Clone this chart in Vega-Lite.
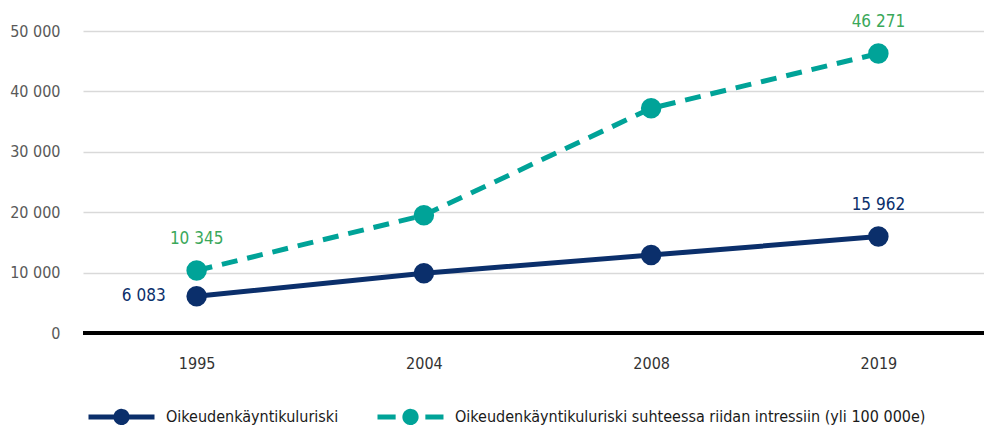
{
  "$schema": "https://vega.github.io/schema/vega-lite/v6.json",
  "width": 909,
  "height": 302,
  "autosize": {"type": "none"},
  "padding": {"left": 83, "top": 31, "right": -8, "bottom": 95},
  "config": {
    "locale": {"number": {"decimal": ",", "thousands": " ", "grouping": [3], "currency": ["", " €"]}},
    "font": "DejaVu Sans Condensed",
    "axis": {"labelFont": "DejaVu Sans Condensed"},
    "legend": {"labelFont": "DejaVu Sans Condensed", "labelLimit": 0},
    "text": {"font": "DejaVu Sans Condensed"},
    "view": {"stroke": null}
  },
  "data": {
    "values": [
      {"year": "1995", "series": "Oikeudenkäyntikuluriski", "value": 6083},
      {"year": "2004", "series": "Oikeudenkäyntikuluriski", "value": 9900},
      {"year": "2008", "series": "Oikeudenkäyntikuluriski", "value": 12900},
      {"year": "2019", "series": "Oikeudenkäyntikuluriski", "value": 15962},
      {"year": "1995", "series": "Oikeudenkäyntikuluriski suhteessa riidan intressiin (yli 100 000e)", "value": 10345},
      {"year": "2004", "series": "Oikeudenkäyntikuluriski suhteessa riidan intressiin (yli 100 000e)", "value": 19500},
      {"year": "2008", "series": "Oikeudenkäyntikuluriski suhteessa riidan intressiin (yli 100 000e)", "value": 37200},
      {"year": "2019", "series": "Oikeudenkäyntikuluriski suhteessa riidan intressiin (yli 100 000e)", "value": 46271}
    ]
  },
  "encoding": {
    "x": {
      "field": "year", "type": "ordinal", "title": null,
      "scale": {"type": "point", "padding": 0.5},
      "axis": {"labelAngle": 0, "domain": false, "ticks": false, "labelPadding": 22, "labelFontSize": 16, "labelColor": "#333333", "grid": false}
    },
    "y": {
      "field": "value", "type": "quantitative", "title": null,
      "scale": {"domain": [0, 50000], "nice": false},
      "axis": {"values": [0, 10000, 20000, 30000, 40000, 50000], "format": ",d", "domain": false, "ticks": false, "labelPadding": 23, "labelFontSize": 16, "labelColor": "#595959", "gridColor": "#d9d9d9", "gridWidth": 1.5}
    }
  },
  "layer": [
    {
      "mark": {"type": "rule", "color": "#000000", "strokeWidth": 3},
      "encoding": {"x": null, "y": {"datum": 0}}
    },
    {
      "transform": [{"filter": "datum.series === 'Oikeudenkäyntikuluriski'"}],
      "mark": {"type": "line", "strokeWidth": 5},
      "encoding": {
        "color": {
          "field": "series", "type": "nominal",
          "scale": {"domain": ["Oikeudenkäyntikuluriski", "Oikeudenkäyntikuluriski suhteessa riidan intressiin (yli 100 000e)"], "range": ["#0b2f6b", "#00a398"]},
          "legend": {
            "title": null, "orient": "none", "direction": "horizontal",
            "legendX": 3, "legendY": 350, "padding": 0,
            "symbolSize": 4356, "symbolStrokeWidth": 5,
            "labelFontSize": 16, "labelColor": "#1a1a1a", "labelOffset": 9, "columnPadding": 28,
            "labelLimit": 0,
            "encode": {
              "symbols": {
                "update": {
                  "shape": {"signal": "datum.value === 'Oikeudenkäyntikuluriski' ? 'M-1,0H1M0.17,0A0.17,0.17,0,1,1,-0.17,0A0.17,0.17,0,1,1,0.17,0Z' : 'M-1,0H-0.45M0.45,0H1M0.17,0A0.17,0.17,0,1,1,-0.17,0A0.17,0.17,0,1,1,0.17,0Z'"},
                  "fill": {"scale": "color", "field": "value"},
                  "stroke": {"scale": "color", "field": "value"},
                  "strokeDash": {"value": [1, 0]},
                  "opacity": {"value": 1}
                }
              }
            }
          }
        }
      }
    },
    {
      "transform": [{"filter": "datum.series !== 'Oikeudenkäyntikuluriski'"}],
      "mark": {"type": "line", "strokeWidth": 5, "strokeDash": [16, 10]},
      "encoding": {"color": {"field": "series", "type": "nominal"}}
    },
    {
      "mark": {"type": "point", "filled": true, "size": 420, "opacity": 1},
      "encoding": {"color": {"field": "series", "type": "nominal"}}
    },
    {
      "transform": [{"filter": "datum.series === 'Oikeudenkäyntikuluriski' && datum.year === '1995'"}],
      "mark": {"type": "text", "align": "right", "baseline": "middle", "dx": -31, "fontSize": 17, "color": "#0b2f6b"},
      "encoding": {"text": {"field": "value", "type": "quantitative", "format": ",d"}}
    },
    {
      "transform": [{"filter": "(datum.series !== 'Oikeudenkäyntikuluriski' && datum.year === '1995') || datum.year === '2019'"}],
      "mark": {"type": "text", "align": "center", "baseline": "middle", "dy": -32, "fontSize": 17},
      "encoding": {
        "text": {"field": "value", "type": "quantitative", "format": ",d"},
        "color": {"condition": {"test": "datum.series === 'Oikeudenkäyntikuluriski'", "value": "#0b2f6b"}, "value": "#3aa85a"}
      }
    }
  ]
}
